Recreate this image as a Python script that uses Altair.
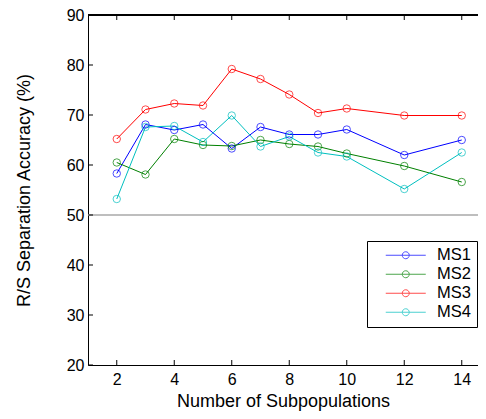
import altair as alt
import pandas as pd

x_vals = [2, 3, 4, 5, 6, 7, 8, 9, 10, 12, 14]
ms1 = [58.3, 68.1, 67.0, 68.1, 63.3, 67.6, 66.1, 66.1, 67.1, 62.0, 65.0]
ms2 = [60.5, 58.1, 65.2, 64.0, 63.8, 65.0, 64.2, 63.7, 62.3, 59.8, 56.6]
ms3 = [65.2, 71.1, 72.3, 71.9, 79.2, 77.2, 74.1, 70.4, 71.3, 69.9, 69.9]
ms4 = [53.2, 67.6, 67.8, 64.6, 69.9, 63.7, 65.7, 62.5, 61.7, 55.2, 62.5]
series_names = ["MS1", "MS2", "MS3", "MS4"]
series_colors = ["#0000ff", "#008000", "#ff0000", "#00bfbf"]
x_ticks = [2, 4, 6, 8, 10, 12, 14]
y_ticks = [20, 30, 40, 50, 60, 70, 80, 90]

rows = []
for name, vals in zip(series_names, [ms1, ms2, ms3, ms4]):
    for xv, yv in zip(x_vals, vals):
        rows.append({"n": xv, "acc": yv, "series": name})
df = pd.DataFrame(rows)
xt_df = pd.DataFrame({"n": x_ticks})
yt_df = pd.DataFrame({"acc": y_ticks})

FONT = "Liberation Sans"
xscale = alt.Scale(domain=[1, 14.565], nice=False, zero=False)
yscale = alt.Scale(domain=[20, 90], nice=False, zero=False)
cscale = alt.Scale(domain=series_names, range=series_colors)

sym = "M-4,0H4M0.7,0A0.7,0.7 0 1,1 -0.7,0A0.7,0.7 0 1,1 0.7,0"
legend = alt.Legend(title=None, orient="none", legendX=279, legendY=226,
                    symbolType=sym, symbolSize=100, symbolStrokeWidth=1,
                    symbolFillColor="transparent",
                    symbolOffset=24.5, labelOffset=23, labelFontSize=16.5,
                    labelFont=FONT, labelColor="black",
                    strokeColor="black", fillColor="white",
                    padding=6, rowPadding=2, cornerRadius=0)

lines = alt.Chart(df).mark_line(strokeWidth=1).encode(
    x=alt.X("n:Q", scale=xscale,
            axis=alt.Axis(values=x_ticks, title="Number of Subpopulations",
                          labelPadding=6, titlePadding=5)),
    y=alt.Y("acc:Q", scale=yscale,
            axis=alt.Axis(values=y_ticks, title="R/S Separation Accuracy (%)",
                          labelPadding=4, titlePadding=33)),
    color=alt.Color("series:N", scale=cscale, legend=legend),
)

points = alt.Chart(df).mark_point(shape="circle", filled=False, size=55, strokeWidth=1).encode(
    x=alt.X("n:Q", scale=xscale),
    y=alt.Y("acc:Q", scale=yscale),
    color=alt.Color("series:N", scale=cscale, legend=legend),
)

ref50 = alt.Chart(df).mark_rule(color="#bdbdbd", strokeWidth=1.2).encode(y=alt.datum(50))
top_line = alt.Chart(df).mark_rule(color="black", strokeWidth=1).encode(y=alt.datum(90))

xt_bottom = alt.Chart(xt_df).mark_tick(orient="vertical", size=5, thickness=1,
                                       color="black", yOffset=-2.5, opacity=1).encode(
    x=alt.X("n:Q", scale=xscale), y=alt.datum(20))
xt_top = alt.Chart(xt_df).mark_tick(orient="vertical", size=5, thickness=1,
                                    color="black", yOffset=2.5, opacity=1).encode(
    x=alt.X("n:Q", scale=xscale), y=alt.datum(90))
yt_left = alt.Chart(yt_df).mark_tick(orient="horizontal", size=5, thickness=1,
                                     color="black", xOffset=2.5, opacity=1).encode(
    y=alt.Y("acc:Q", scale=yscale), x=alt.datum(1))

chart = alt.layer(ref50, lines, points, top_line, xt_bottom, xt_top, yt_left).properties(
    width=390, height=350,
    autosize=alt.AutoSizeParams(type="none"),
    padding={"left": 80, "top": 7, "right": 0, "bottom": 46},
).configure_view(stroke=None).configure_axis(
    domainColor="black", domainWidth=1, ticks=False, tickSize=0, grid=False,
    labelFont=FONT, labelFontSize=16, labelColor="black",
    titleFont=FONT, titleFontSize=18, titleFontWeight="normal", titleColor="black",
)

chart.save("out.html", embed_options={"renderer": "svg", "actions": False})
